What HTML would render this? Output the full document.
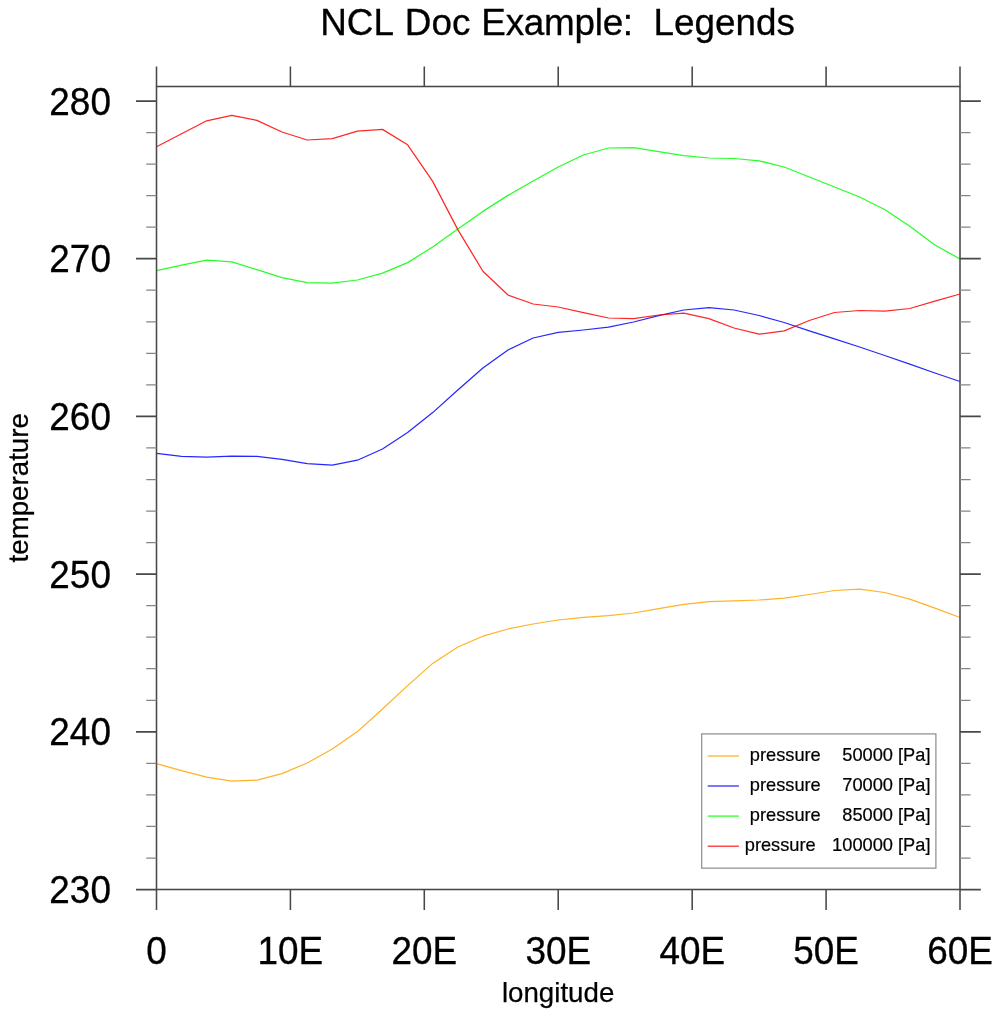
<!DOCTYPE html>
<html><head><meta charset="utf-8"><title>NCL Doc Example: Legends</title>
<style>
html,body{margin:0;padding:0;background:#fff;}
svg{display:block;will-change:transform;font-family:"Liberation Sans",sans-serif;}
</style></head><body>
<svg width="1000" height="1016" viewBox="0 0 1000 1016">
<rect x="0" y="0" width="1000" height="1016" fill="#fff"/>
<text transform="translate(558.1 35.4) scale(1 1.02)" font-size="36.85" text-anchor="start" fill="#000" stroke="#000" stroke-width="0.3" xml:space="preserve"><tspan x="-237.9">NCL </tspan><tspan x="-153.3">Doc </tspan><tspan x="-76.8" letter-spacing="-0.257">Example:</tspan><tspan x="75.03">  Legends</tspan></text>
<polyline fill="none" stroke="#ffa500" stroke-opacity="0.85" stroke-width="1.25" stroke-linejoin="round" points="156.5,763.6 181.6,770.6 206.7,777.2 231.8,781.2 256.9,780.2 282.0,773.6 307.2,763.0 332.3,749.0 357.4,731.6 382.5,709.0 407.6,685.6 432.7,663.4 457.8,647.0 482.9,636.2 508.0,629.0 533.1,624.0 558.2,620.0 583.4,617.4 608.5,615.6 633.6,613.0 658.7,608.6 683.8,604.4 708.9,601.6 734.0,600.8 759.1,600.0 784.2,598.2 809.3,594.5 834.5,590.5 859.6,589.2 884.7,592.5 909.8,599.2 934.9,608.2 960.0,617.5"/>
<polyline fill="none" stroke="#0000ff" stroke-opacity="0.85" stroke-width="1.25" stroke-linejoin="round" points="156.5,453.4 181.6,456.4 206.7,457.2 231.8,456.2 256.9,456.4 282.0,459.4 307.2,463.6 332.3,465.2 357.4,460.2 382.5,449.0 407.6,432.6 432.7,412.6 457.8,390.0 482.9,368.0 508.0,350.0 533.1,338.0 558.2,332.4 583.4,330.0 608.5,327.2 633.6,322.0 658.7,315.6 683.8,310.0 708.9,307.6 734.0,310.0 759.1,315.5 784.2,322.5 809.3,330.8 834.5,338.8 859.6,347.0 884.7,355.5 909.8,364.2 934.9,373.0 960.0,381.5"/>
<polyline fill="none" stroke="#00ff00" stroke-opacity="0.85" stroke-width="1.25" stroke-linejoin="round" points="156.5,270.6 181.6,265.2 206.7,260.2 231.8,261.8 256.9,269.6 282.0,277.6 307.2,282.6 332.3,283.2 357.4,280.0 382.5,273.2 407.6,262.6 432.7,247.0 457.8,229.0 482.9,211.4 508.0,195.4 533.1,181.0 558.2,167.0 583.4,155.0 608.5,148.0 633.6,147.6 658.7,151.6 683.8,155.6 708.9,158.0 734.0,158.5 759.1,160.8 784.2,167.0 809.3,177.0 834.5,187.0 859.6,197.0 884.7,209.5 909.8,226.2 934.9,245.0 960.0,259.0"/>
<polyline fill="none" stroke="#ff0000" stroke-opacity="0.85" stroke-width="1.25" stroke-linejoin="round" points="156.5,146.8 181.6,133.8 206.7,120.8 231.8,115.4 256.9,120.4 282.0,132.0 307.2,140.0 332.3,138.6 357.4,131.2 382.5,129.4 407.6,144.8 432.7,181.4 457.8,229.6 482.9,271.2 508.0,295.0 533.1,304.0 558.2,307.0 583.4,312.6 608.5,318.0 633.6,318.6 658.7,315.0 683.8,313.2 708.9,318.6 734.0,328.0 759.1,334.2 784.2,330.8 809.3,320.5 834.5,312.5 859.6,310.5 884.7,311.2 909.8,308.5 934.9,301.2 960.0,294.0"/>
<g stroke="#484848" stroke-width="1.55" fill="none">
<rect x="156.5" y="86.5" width="803.5" height="803.0"/>
<path d="M156.5 889.5V909.9M156.5 86.5V66.4"/>
<path d="M290.4 889.5V909.9M290.4 86.5V66.4"/>
<path d="M424.3 889.5V909.9M424.3 86.5V66.4"/>
<path d="M558.2 889.5V909.9M558.2 86.5V66.4"/>
<path d="M692.2 889.5V909.9M692.2 86.5V66.4"/>
<path d="M826.1 889.5V909.9M826.1 86.5V66.4"/>
<path d="M960.0 889.5V909.9M960.0 86.5V66.4"/>
<path stroke-width="1.75" d="M156.5 889.5H136.0M960.0 889.5H980.8"/>
<path stroke-width="1.75" d="M156.5 731.8H136.0M960.0 731.8H980.8"/>
<path stroke-width="1.75" d="M156.5 574.1H136.0M960.0 574.1H980.8"/>
<path stroke-width="1.75" d="M156.5 416.4H136.0M960.0 416.4H980.8"/>
<path stroke-width="1.75" d="M156.5 258.7H136.0M960.0 258.7H980.8"/>
<path stroke-width="1.75" d="M156.5 101.0H136.0M960.0 101.0H980.8"/>
</g>
<g stroke="#858585" stroke-width="1.25" fill="none">
<path d="M156.5 858.0H146.2M960.0 858.0H970.5"/>
<path d="M156.5 826.4H146.2M960.0 826.4H970.5"/>
<path d="M156.5 794.9H146.2M960.0 794.9H970.5"/>
<path d="M156.5 763.3H146.2M960.0 763.3H970.5"/>
<path d="M156.5 700.3H146.2M960.0 700.3H970.5"/>
<path d="M156.5 668.7H146.2M960.0 668.7H970.5"/>
<path d="M156.5 637.2H146.2M960.0 637.2H970.5"/>
<path d="M156.5 605.6H146.2M960.0 605.6H970.5"/>
<path d="M156.5 542.6H146.2M960.0 542.6H970.5"/>
<path d="M156.5 511.0H146.2M960.0 511.0H970.5"/>
<path d="M156.5 479.5H146.2M960.0 479.5H970.5"/>
<path d="M156.5 447.9H146.2M960.0 447.9H970.5"/>
<path d="M156.5 384.9H146.2M960.0 384.9H970.5"/>
<path d="M156.5 353.3H146.2M960.0 353.3H970.5"/>
<path d="M156.5 321.8H146.2M960.0 321.8H970.5"/>
<path d="M156.5 290.2H146.2M960.0 290.2H970.5"/>
<path d="M156.5 227.2H146.2M960.0 227.2H970.5"/>
<path d="M156.5 195.6H146.2M960.0 195.6H970.5"/>
<path d="M156.5 164.1H146.2M960.0 164.1H970.5"/>
<path d="M156.5 132.5H146.2M960.0 132.5H970.5"/>
</g>
<g font-size="36.9" fill="#000" stroke="#000" stroke-width="0.3">
<text transform="translate(156.5 963.6) scale(1 1.04)" text-anchor="middle">0</text>
<text transform="translate(290.4 963.6) scale(1 1.04)" text-anchor="middle">10E</text>
<text transform="translate(424.3 963.6) scale(1 1.04)" text-anchor="middle">20E</text>
<text transform="translate(558.2 963.6) scale(1 1.04)" text-anchor="middle">30E</text>
<text transform="translate(692.2 963.6) scale(1 1.04)" text-anchor="middle">40E</text>
<text transform="translate(826.1 963.6) scale(1 1.04)" text-anchor="middle">50E</text>
<text transform="translate(960.0 963.6) scale(1 1.04)" text-anchor="middle">60E</text>
<text transform="translate(110.9 903.1) scale(1 1.04)" text-anchor="end">230</text>
<text transform="translate(110.9 745.4) scale(1 1.04)" text-anchor="end">240</text>
<text transform="translate(110.9 587.7) scale(1 1.04)" text-anchor="end">250</text>
<text transform="translate(110.9 430.0) scale(1 1.04)" text-anchor="end">260</text>
<text transform="translate(110.9 272.3) scale(1 1.04)" text-anchor="end">270</text>
<text transform="translate(110.9 114.6) scale(1 1.04)" text-anchor="end">280</text>
</g>
<text x="558.1" y="1001.8" font-size="27.7" stroke="#000" stroke-width="0.25" text-anchor="middle">longitude</text>
<text transform="translate(27.7 487.8) rotate(-90)" font-size="27.7" stroke="#000" stroke-width="0.25" text-anchor="middle">temperature</text>
<rect x="701.7" y="733.9" width="234.2" height="134.25" fill="#fff" stroke="#8c8c8c" stroke-width="1.2"/>
<path d="M707.7 756.0H738.9" stroke="#ffa500" stroke-opacity="0.85" stroke-width="1.25"/>
<text transform="translate(930.5 760.5) scale(1 1.035)" font-size="18.25" stroke="#000" stroke-width="0.2" text-anchor="end" xml:space="preserve">pressure<tspan dx="1.2">    50000 [Pa]</tspan></text>
<path d="M707.7 786.0H738.9" stroke="#0000ff" stroke-opacity="0.85" stroke-width="1.25"/>
<text transform="translate(930.5 790.5) scale(1 1.035)" font-size="18.25" stroke="#000" stroke-width="0.2" text-anchor="end" xml:space="preserve">pressure<tspan dx="1.2">    70000 [Pa]</tspan></text>
<path d="M707.7 816.1H738.9" stroke="#00ff00" stroke-opacity="0.85" stroke-width="1.25"/>
<text transform="translate(930.5 820.6) scale(1 1.035)" font-size="18.25" stroke="#000" stroke-width="0.2" text-anchor="end" xml:space="preserve">pressure<tspan dx="1.2">    85000 [Pa]</tspan></text>
<path d="M707.7 846.2H738.9" stroke="#ff0000" stroke-opacity="0.85" stroke-width="1.25"/>
<text transform="translate(930.5 850.7) scale(1 1.035)" font-size="18.25" stroke="#000" stroke-width="0.2" text-anchor="end" xml:space="preserve">pressure<tspan dx="1.2">   100000 [Pa]</tspan></text>
</svg>
</body></html>
